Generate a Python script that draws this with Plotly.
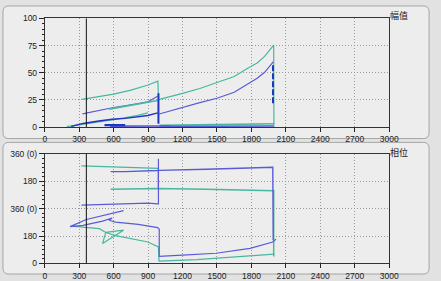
import plotly.graph_objects as go

W, H = 441, 281

# ---------------- data (amplitude panel) ----------------
amp_teal_a_x = [322, 450, 600, 750, 900, 985, 992]
amp_teal_a_y = [25.5, 27.5, 30.3, 34, 38.7, 42.2, 24]
amp_teal_b_x = [998, 1100, 1200, 1350, 1500, 1650, 1775, 1850, 1915, 1994, 1996]
amp_teal_b_y = [25.4, 28, 31, 35.5, 41, 46.5, 54.5, 59, 65, 75.5, 2]
amp_teal_c_x = [560, 750, 983]
amp_teal_c_y = [16.5, 20, 24.5]
amp_teal_low_x = [192, 400, 600, 800, 898]
amp_teal_low_y = [0.3, 3.5, 6.8, 10.5, 13]
amp_teal_base_x = [1000, 2000]
amp_teal_base_y = [1.5, 3]

amp_blue_a_x = [328, 450, 600, 750, 898, 983]
amp_blue_a_y = [12.1, 15, 18, 20.5, 23.3, 28.3]
amp_blue_b_x = [997, 1100, 1200, 1350, 1500, 1650, 1775, 1850, 1915, 1990]
amp_blue_b_y = [12, 15, 18.6, 22.5, 26.5, 32, 40, 45, 50.4, 60]
amp_blue_base_x = [570, 1100, 1000, 2000]
amp_blue_base_y = [0.8, 1.0, 0.5, 1.0]

amp_dark_low_x = [230, 333, 470, 587, 700, 898, 983]
amp_dark_low_y = [0.5, 3.3, 5.5, 7.2, 8, 10.6, 13]
amp_dark_vert_x = [990, 990]
amp_dark_vert_y = [31, 3]
amp_dark_dash_x = [1988, 1988]
amp_dark_dash_y = [57, 22]
amp_dark_base_x = [520, 700]
amp_dark_base_y = [1.8, 1.8]

# ---------------- data (phase panel) ----------------
ph_teal_top_x = [319, 600, 898, 983, 988, 988]
ph_teal_top_y = [642, 636, 630, 625, 625, 493]
ph_teal_mid_x = [574, 983, 1407, 1986, 1994, 1994]
ph_teal_mid_y = [488, 493, 488, 478, 478, 46]
ph_teal_loop_x = [235, 475, 531, 686, 503, 531, 616, 898, 990, 995, 1322, 1700, 2000]
ph_teal_loop_y = [246, 229, 204, 219, 131, 204, 183, 141, 109, 15, 25, 45, 61]

ph_blue_top_x = [574, 700, 983, 995, 1407, 1986, 1990]
ph_blue_top_y = [604, 604, 611, 612, 619, 632, 152]
ph_blue_360_x = [319, 600, 898, 983, 990, 990]
ph_blue_360_y = [383, 390, 396, 392, 392, 688]
ph_blue_loop_x = [686, 531, 362, 220, 333, 503, 587, 559, 616, 814, 983, 997, 997, 1200, 1492, 1788, 1986, 2015]
ph_blue_loop_y = [347, 320, 289, 242, 251, 278, 299, 284, 272, 257, 236, 225, 46, 55, 67, 99, 141, 160]

x_ticks = [0, 300, 600, 900, 1200, 1500, 1800, 2100, 2400, 2700, 3000]
amp_ticks = [0, 25, 50, 75, 100]
ph_ticks = [0, 180, 360, 540, 720]
ph_ticktext = ["0", "180", "360 (0)", "180", "360 (0)"]
cursor_rpm = 362
amp_title = "幅值"
ph_title = "相位"

TEAL = "#47b89e"
BLUE = "#5a5ad8"
DARK = "#2035c0"

fig = go.Figure()

def add(x, y, color, width=1.2, xa="x", ya="y", dash="solid"):
    fig.add_trace(go.Scatter(x=x, y=y, mode="lines", xaxis=xa, yaxis=ya,
                             line=dict(color=color, width=width, dash=dash),
                             hoverinfo="skip", showlegend=False))

# amplitude
add(amp_teal_a_x, amp_teal_a_y, TEAL)
add(amp_teal_b_x, amp_teal_b_y, TEAL)
add(amp_teal_low_x, amp_teal_low_y, TEAL)
add(amp_teal_base_x, amp_teal_base_y, TEAL, 1.6)
add(amp_blue_a_x, amp_blue_a_y, BLUE)
add(amp_blue_b_x, amp_blue_b_y, BLUE)
add(amp_teal_c_x, amp_teal_c_y, TEAL, 1.6)
add(amp_blue_base_x[:2], amp_blue_base_y[:2], BLUE, 1.6)
add(amp_blue_base_x[2:], amp_blue_base_y[2:], BLUE, 1.6)
add(amp_dark_low_x, amp_dark_low_y, DARK, 1.4)
add(amp_dark_vert_x, amp_dark_vert_y, DARK, 2)
add(amp_dark_dash_x, amp_dark_dash_y, DARK, 2, dash="6px,2px")
add(amp_dark_base_x, amp_dark_base_y, DARK, 2.2)

# phase
add(ph_teal_top_x, ph_teal_top_y, TEAL, 1.2, "x2", "y2")
add(ph_teal_mid_x, ph_teal_mid_y, TEAL, 1.5, "x2", "y2")
add(ph_teal_loop_x, ph_teal_loop_y, TEAL, 1.2, "x2", "y2")
add(ph_blue_top_x, ph_blue_top_y, BLUE, 1.4, "x2", "y2")
add(ph_blue_360_x, ph_blue_360_y, BLUE, 1.2, "x2", "y2")
add(ph_blue_loop_x, ph_blue_loop_y, BLUE, 1.2, "x2", "y2")

def px(x):
    return x / W

def py(y):
    return 1 - y / H

def rrect(x0, y0, x1, y1, r=6):
    pts = []
    pts.append(f"M {px(x0 + r)},{py(y0)}")
    pts.append(f"L {px(x1 - r)},{py(y0)}")
    pts.append(f"Q {px(x1)},{py(y0)} {px(x1)},{py(y0 + r)}")
    pts.append(f"L {px(x1)},{py(y1 - r)}")
    pts.append(f"Q {px(x1)},{py(y1)} {px(x1 - r)},{py(y1)}")
    pts.append(f"L {px(x0 + r)},{py(y1)}")
    pts.append(f"Q {px(x0)},{py(y1)} {px(x0)},{py(y1 - r)}")
    pts.append(f"L {px(x0)},{py(y0 + r)}")
    pts.append(f"Q {px(x0)},{py(y0)} {px(x0 + r)},{py(y0)}")
    pts.append("Z")
    return " ".join(pts)

shapes = [
    dict(type="path", xref="paper", yref="paper", path=rrect(1, 1, 439, 139),
         fillcolor="#ededed", line=dict(color="#a6a6a6", width=1), layer="below"),
    dict(type="path", xref="paper", yref="paper", path=rrect(1, 143, 439, 280),
         fillcolor="#ededed", line=dict(color="#a6a6a6", width=1), layer="below"),
    dict(type="line", xref="x", yref="y domain", x0=cursor_rpm, x1=cursor_rpm, y0=0, y1=1,
         line=dict(color="#111", width=1)),
    dict(type="line", xref="x2", yref="y2 domain", x0=cursor_rpm, x1=cursor_rpm, y0=0, y1=1,
         line=dict(color="#111", width=1)),
]

font = dict(family="Liberation Sans, Arial, sans-serif", size=8.5, color="#222")

xdom = [44 / W, 398 / W]
GRID = "#9a9a9a"
GDASH = "1px,2px"
common_x = dict(range=[0, 3000], tickvals=x_ticks, ticks="outside", ticklen=4,
                tickcolor="#222", showline=True, linecolor="#333", linewidth=1, mirror=True,
                showgrid=True, gridcolor=GRID, griddash=GDASH, gridwidth=1,
                zeroline=False, tickfont=font, fixedrange=True, domain=xdom)
common_y = dict(ticks="outside", ticklen=5, tickcolor="#222", showline=True,
                linecolor="#333", linewidth=1, mirror=True, showgrid=True,
                gridcolor=GRID, griddash=GDASH, gridwidth=1, zeroline=False,
                tickfont=font, fixedrange=True)

fig.update_layout(
    width=W, height=H, margin=dict(l=0, r=0, t=0, b=0),
    paper_bgcolor="#e2e2e2", plot_bgcolor="#f4f4f4",
    xaxis=dict(common_x, anchor="y"),
    yaxis=dict(common_y, anchor="x", domain=[py(127), py(14)], range=[0, 100],
               tickvals=amp_ticks,
               minor=dict(dtick=5, ticks="outside", ticklen=2, tickcolor="#222", showgrid=False)),
    xaxis2=dict(common_x, anchor="y2"),
    yaxis2=dict(common_y, anchor="x2", domain=[py(269), py(155)], range=[0, 720],
                tickvals=ph_ticks, ticktext=ph_ticktext,
                minor=dict(dtick=30, ticks="outside", ticklen=2, tickcolor="#222", showgrid=False)),
    shapes=shapes,
    annotations=[
        dict(text=amp_title, xref="paper", yref="paper", x=px(397), y=py(10.5),
             xanchor="left", yanchor="middle", showarrow=False,
             font=dict(family="Noto Sans CJK SC", size=9, color="#222")),
        dict(text=ph_title, xref="paper", yref="paper", x=px(397), y=py(153),
             xanchor="left", yanchor="middle", showarrow=False,
             font=dict(family="Noto Sans CJK SC", size=9, color="#222")),
    ],
)

fig.write_html("out.html")
